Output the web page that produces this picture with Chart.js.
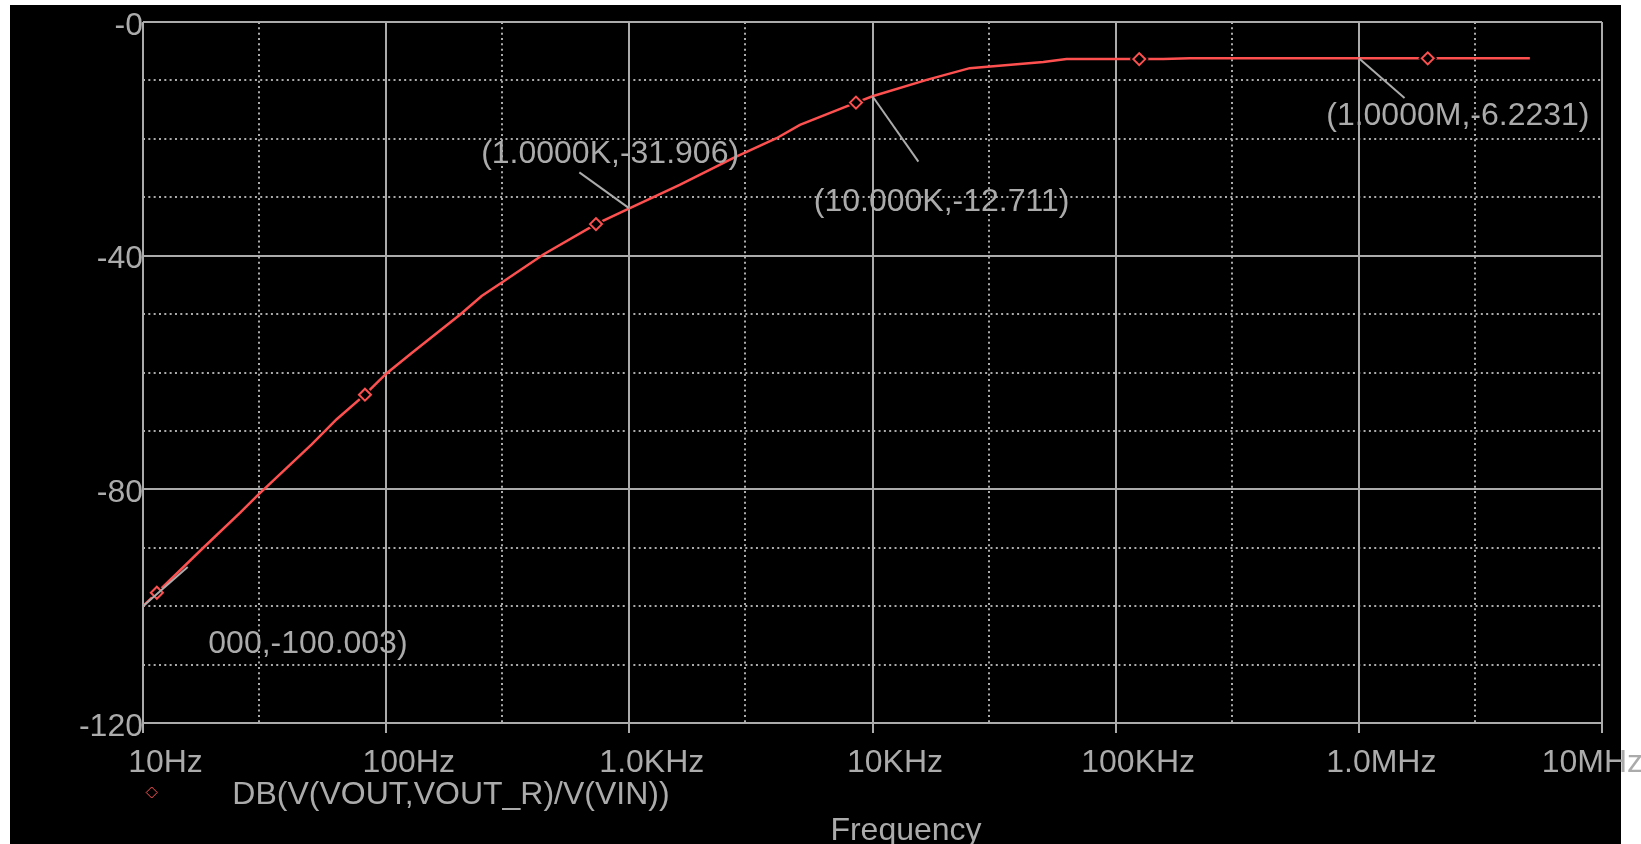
<!DOCTYPE html>
<html><head><meta charset="utf-8">
<script src="https://cdn.jsdelivr.net/npm/chart.js@4/dist/chart.umd.min.js"></script>
<style>html,body{margin:0;padding:0;background:#fff;overflow:hidden}canvas{display:block}</style>
</head><body>
<canvas id="c" width="1641" height="844"></canvas>
<script>
// ---- data ----
const freqHz = [10, 17.7, 25.1, 29.8, 49.4, 62.6, 81.8, 100, 127, 201, 247, 299, 443, 729, 1000, 1610, 2670, 4030, 5030, 8550, 10000, 16700, 25100, 50400, 62800, 157000, 202000, 1000000, 5050000];
const gainDb = [-100.003, -90.0, -84.0, -80.9, -72.3, -68.0, -63.8, -60.2, -56.7, -50.1, -46.9, -44.6, -39.8, -34.6, -31.906, -27.9, -23.3, -19.9, -17.6, -13.8, -12.711, -9.9, -7.9, -6.85, -6.35, -6.35, -6.22, -6.2231, -6.22];
const markerHz = [11.4, 81.8, 729, 8550, 125000, 1920000];
const markerDb = [-97.7, -63.8, -34.6, -13.8, -6.35, -6.22];
const xTickValues = [10, 100, 1e3, 1e4, 1e5, 1e6, 1e7];
const xTickLabels = ['10Hz', '100Hz', '1.0KHz', '10KHz', '100KHz', '1.0MHz', '10MHz'];
const xMinorValues = [30, 300, 3e3, 3e4, 3e5, 3e6];
const yTickValues = [-120, -80, -40, 0];
const yTickLabels = ['-120', '-80', '-40', '-0'];
const yMinorValues = [-110, -100, -90, -70, -60, -50, -30, -20, -10];
const cursorHz = [10, 1000, 10000, 1000000];
const cursorDb = [-100.003, -31.906, -12.711, -6.2231];
const cursorText = ['000,-100.003)', '(1.0000K,-31.906)', '(10.000K,-12.711)', '(1.0000M,-6.2231)'];
const seriesName = 'DB(V(VOUT,VOUT_R)/V(VIN))';
const xTitle = 'Frequency';

// ---- styles ----
const GRAY = '#ababab';
const RED = '#ff5050';
const FONT = "'Liberation Sans', Arial, Helvetica, sans-serif";
const FS = 32;
const cursorStyle = [
  {lead: [44.7, -39.2], text: [65.3, 46.8]},
  {lead: [-50, -36], text: [-148.2, -45.8]},
  {lead: [45.9, 65.4], text: [-58.7, 115]},
  {lead: [45.7, 39.6], text: [-32.6, 66.3]}
];

const toPts = (xs, ys) => xs.map((v, i) => ({x: v, y: ys[i]}));

const bgPlugin = {
  id: 'bg',
  beforeDraw(chart) {
    const c = chart.ctx;
    c.save();
    c.fillStyle = '#000';
    c.fillRect(10, 5, 1611, 839);
    c.restore();
  }
};

const cursorPlugin = {
  id: 'cursors',
  afterDatasetsDraw(chart) {
    const c = chart.ctx, xs = chart.scales.x, ys = chart.scales.y;
    c.save();
    c.strokeStyle = GRAY;
    c.lineWidth = 2;
    c.fillStyle = GRAY;
    c.font = FS + 'px ' + FONT;
    c.textAlign = 'left';
    c.textBaseline = 'alphabetic';
    cursorHz.forEach((f, i) => {
      const px = xs.getPixelForValue(f), py = ys.getPixelForValue(cursorDb[i]);
      const st = cursorStyle[i];
      c.beginPath();
      c.moveTo(px, py);
      c.lineTo(px + st.lead[0], py + st.lead[1]);
      c.stroke();
      c.fillText(cursorText[i], px + st.text[0], py + st.text[1]);
    });
    c.restore();
  }
};

const textPlugin = {
  id: 'texts',
  afterDraw(chart) {
    const c = chart.ctx, xs = chart.scales.x, a = chart.chartArea;
    c.save();
    c.fillStyle = GRAY;
    c.font = FS + 'px ' + FONT;
    c.textBaseline = 'alphabetic';
    c.textAlign = 'center';
    xTickValues.forEach((v, i) => {
      const px = xs.getPixelForValue(v);
      const w = c.measureText(xTickLabels[i]).width;
      const cx = Math.min(px + 22.5, chart.width - w / 2 + 2);
      c.fillText(xTickLabels[i], cx, a.bottom + 49);
    });
    // legend
    c.textAlign = 'left';
    c.fillText(seriesName, a.left + 89.3, a.bottom + 81);
    c.fillStyle = '#000';
    c.strokeStyle = RED;
    Chart.helpers.drawPoint(c, {pointStyle: 'rectRot', radius: 5.5, borderWidth: 2, rotation: 0}, a.left + 8.7, a.bottom + 69.5);
    // axis title
    c.fillStyle = GRAY;
    c.textAlign = 'center';
    c.fillText(xTitle, (a.left + a.right) / 2 + 33.5, a.bottom + 116.5);
    c.restore();
  }
};

new Chart(document.getElementById('c'), {
  type: 'line',
  data: {
    datasets: [
      {label: seriesName, data: toPts(markerHz, markerDb), showLine: false, pointStyle: 'rectRot',
       pointRadius: 6, pointBorderWidth: 2, pointBorderColor: RED, pointBackgroundColor: '#000', order: 0},
      {label: 'halo', data: toPts(markerHz, markerDb), showLine: false, pointStyle: 'rectRot',
       pointRadius: 9.5, pointBorderWidth: 0, pointBorderColor: '#000', pointBackgroundColor: '#000', order: 1},
      {label: 'trace', data: toPts(freqHz, gainDb), borderColor: RED, borderWidth: 2.5, pointRadius: 0,
       tension: 0, fill: false, order: 2}
    ]
  },
  options: {
    responsive: false,
    devicePixelRatio: 1,
    animation: false,
    events: [],
    layout: {padding: {left: 10, top: 22, right: 39, bottom: 0}},
    plugins: {legend: {display: false}, tooltip: {enabled: false}},
    scales: {
      x: {
        type: 'logarithmic', position: 'bottom', min: 10, max: 1e7,
        afterBuildTicks: s => { s.ticks = xTickValues.map(v => ({value: v})); },
        afterFit: s => { s.height = 121; },
        ticks: {display: false},
        grid: {color: GRAY, lineWidth: 2, drawTicks: true, tickLength: 10, tickColor: GRAY, tickWidth: 2},
        border: {display: false}
      },
      x2: {
        type: 'logarithmic', position: 'bottom', min: 10, max: 1e7,
        afterBuildTicks: s => { s.ticks = xMinorValues.map(v => ({value: v})); },
        afterFit: s => { s.height = 0; },
        ticks: {display: false},
        grid: {color: GRAY, lineWidth: 2, drawTicks: false},
        border: {display: false, dash: [2, 3.33]}
      },
      y: {
        type: 'linear', position: 'left', min: -120, max: 0,
        afterBuildTicks: s => { s.ticks = yTickValues.map(v => ({value: v})); },
        afterFit: s => { s.width = 133; },
        ticks: {color: GRAY, font: {family: FONT, size: FS}, padding: 0, labelOffset: 4,
                callback: (v, i) => yTickLabels[i]},
        grid: {color: GRAY, lineWidth: 2, drawTicks: false},
        border: {display: false}
      },
      y2: {
        type: 'linear', position: 'left', min: -120, max: 0,
        afterBuildTicks: s => { s.ticks = yMinorValues.map(v => ({value: v})); },
        afterFit: s => { s.width = 0; },
        ticks: {display: false},
        grid: {color: GRAY, lineWidth: 2, drawTicks: false},
        border: {display: false, dash: [2, 3.33]}
      }
    }
  },
  plugins: [bgPlugin, cursorPlugin, textPlugin]
});
</script>
</body></html>
